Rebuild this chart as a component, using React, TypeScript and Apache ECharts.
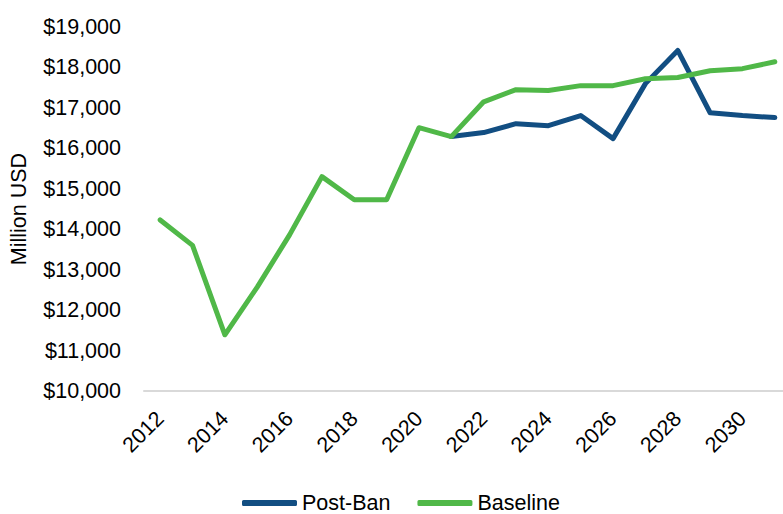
import React, { useEffect, useRef } from "react";
import * as echarts from "echarts";

const years = [
  "2012", "2013", "2014", "2015", "2016", "2017", "2018", "2019", "2020", "2021",
  "2022", "2023", "2024", "2025", "2026", "2027", "2028", "2029", "2030", "2031",
];

const baseline = [
  14230, 13600, 11390, 12570, 13860, 15300, 14730, 14730, 16510, 16290,
  17150, 17450, 17430, 17550, 17550, 17720, 17750, 17920, 17970, 18140,
];

const postBan = [
  null, null, null, null, null, null, null, null, null, 16290,
  16390, 16610, 16560, 16810, 16240, 17600, 18420, 16880, 16810, 16760,
];

const yTicks = { min: 10000, max: 19000, interval: 1000 };

const FONT = "'Liberation Sans', Arial, sans-serif";
const FS = 21.5;

export default function App() {
  const ref = useRef<HTMLDivElement>(null);

  useEffect(() => {
    if (!ref.current) return;
    const chart = echarts.init(ref.current, null, { renderer: "svg" });
    chart.setOption({
      animation: false,
      backgroundColor: "#ffffff",
      textStyle: { fontFamily: FONT },
      grid: {
        left: 144,
        top: 27,
        width: 647,
        height: 364,
        containLabel: false,
        outerBoundsMode: "none",
      },
      legend: {
        left: 242,
        top: 492,
        padding: 0,
        itemWidth: 55,
        itemHeight: 6,
        itemGap: 27,
        icon: "roundRect",
        textStyle: { fontSize: FS, color: "#000", fontFamily: FONT },
        data: ["Post-Ban", "Baseline"],
      },
      xAxis: {
        type: "category",
        data: years,
        boundaryGap: true,
        axisLine: { show: true, lineStyle: { color: "#d9d9d9", width: 2 } },
        axisTick: { show: false },
        axisLabel: {
          interval: 1,
          rotate: 45,
          fontSize: FS,
          color: "#000",
          fontFamily: FONT,
          margin: 24,
        },
      },
      yAxis: {
        type: "value",
        min: yTicks.min,
        max: yTicks.max,
        interval: yTicks.interval,
        name: "Million USD",
        nameLocation: "middle",
        nameGap: 114,
        nameTextStyle: { fontSize: FS, color: "#000", fontFamily: FONT },
        axisLine: { show: false },
        axisTick: { show: false },
        splitLine: { show: false },
        axisLabel: {
          fontSize: FS,
          color: "#000",
          fontFamily: FONT,
          margin: 23,
          formatter: (v: number) => "$" + v.toLocaleString("en-US"),
        },
      },
      series: [
        {
          name: "Post-Ban",
          type: "line",
          data: postBan,
          showSymbol: false,
          symbol: "none",
          lineStyle: { color: "#124e82", width: 5, cap: "round", join: "round" },
          itemStyle: { color: "#124e82" },
          z: 2,
        },
        {
          name: "Baseline",
          type: "line",
          data: baseline,
          showSymbol: false,
          symbol: "none",
          lineStyle: { color: "#50b848", width: 5, cap: "round", join: "round" },
          itemStyle: { color: "#50b848" },
          z: 3,
        },
      ],
    });
    return () => chart.dispose();
  }, []);

  return (
    <div
      ref={ref}
      style={{ position: "fixed", left: 0, top: 0, width: 783, height: 514 }}
    />
  );
}
